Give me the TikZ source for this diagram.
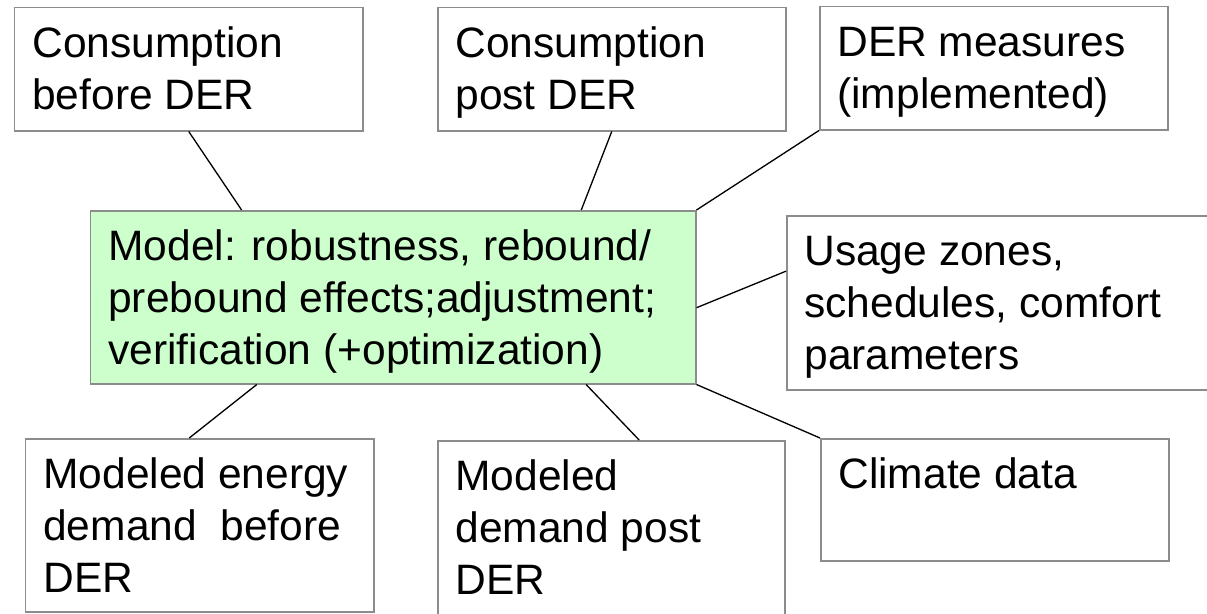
\documentclass[tikz,border=0pt]{standalone}
\usepackage{fontspec}
\setmainfont{Liberation Sans}
\usepackage{xcolor}
\definecolor{boxline}{HTML}{8C8C8C}
\definecolor{modelfill}{HTML}{CCFFCC}
\usetikzlibrary{positioning, calc}
\newcommand{\boxfont}{\fontsize{24.2}{29.6}\selectfont}

\begin{document}
\begin{tikzpicture}[
  every node/.style={font=\boxfont},
  infobox/.style={draw=boxline, line width=0.85pt, fill=white, anchor=north west,
                  inner sep=0pt, minimum width=6.96cm, minimum height=2.46cm},
  modelbox/.style={infobox, fill=modelfill, minimum width=12.1cm, minimum height=3.46cm},
  boxtext/.style={anchor=north west, align=left, inner sep=0pt,
                  xshift=0.36cm, yshift=-7.7pt},
  link/.style={draw=black, line width=0.75pt}
]
  \useasboundingbox (0,0) rectangle (24.14,-12.26);
  \clip (0,0) rectangle (24.14,-12.26);

  % top row
  \node[infobox, label={[boxtext]north west:{\strut Consumption\\before DER}}]
    (consbefore) at (0.28,-0.14) {};
  \node[infobox, label={[boxtext]north west:{\strut Consumption\\post DER}}]
    (conspost) at (8.74,-0.14) {};
  \node[infobox, label={[boxtext]north west:{\strut DER measures\\(implemented)}}]
    (dermeasures) at (16.38,-0.12) {};

  % model in the middle
  \node[modelbox, label={[boxtext]north west:{\strut Model: robustness, rebound/\\prebound effects;adjustment;\\verification (+optimization)}}]
    (model) at (1.80,-4.20) {};
  \node[infobox, minimum width=9cm, minimum height=3.48cm,
        label={[boxtext]north west:{\strut Usage zones,\\schedules, comfort\\parameters}}]
    (usage) at (15.72,-4.30) {};

  % bottom row
  \node[infobox, minimum height=3.46cm,
        label={[boxtext]north west:{\strut Modeled energy\\demand\ \ before\\DER}}]
    (modbefore) at (0.50,-8.76) {};
  \node[infobox, minimum width=6.94cm, minimum height=3.6cm,
        label={[boxtext]north west:{\strut Modeled\\demand post\\DER}}]
    (modpost) at (8.74,-8.80) {};
  \node[infobox, minimum height=2.44cm,
        label={[boxtext]north west:{\strut Climate data}}]
    (climate) at (16.40,-8.76) {};

  % connectors
  \draw[link] (consbefore.south) -- ($(model.north west)!0.25!(model.north east)$);
  \draw[link] (conspost.south) -- ($(model.north west)!0.81!(model.north east)$);
  \draw[link] (dermeasures.south west) -- (model.north east);
  \draw[link] ($(usage.north west)!0.32!(usage.south west)$) -- ($(model.north east)!0.56!(model.south east)$);
  \draw[link] ($(model.south west)!0.275!(model.south east)$) -- ($(modbefore.north west)!0.47!(modbefore.north east)$);
  \draw[link] ($(model.south west)!0.818!(model.south east)$) -- ($(modpost.north west)!0.58!(modpost.north east)$);
  \draw[link] (model.south east) -- (climate.north west);
\end{tikzpicture}
\end{document}
